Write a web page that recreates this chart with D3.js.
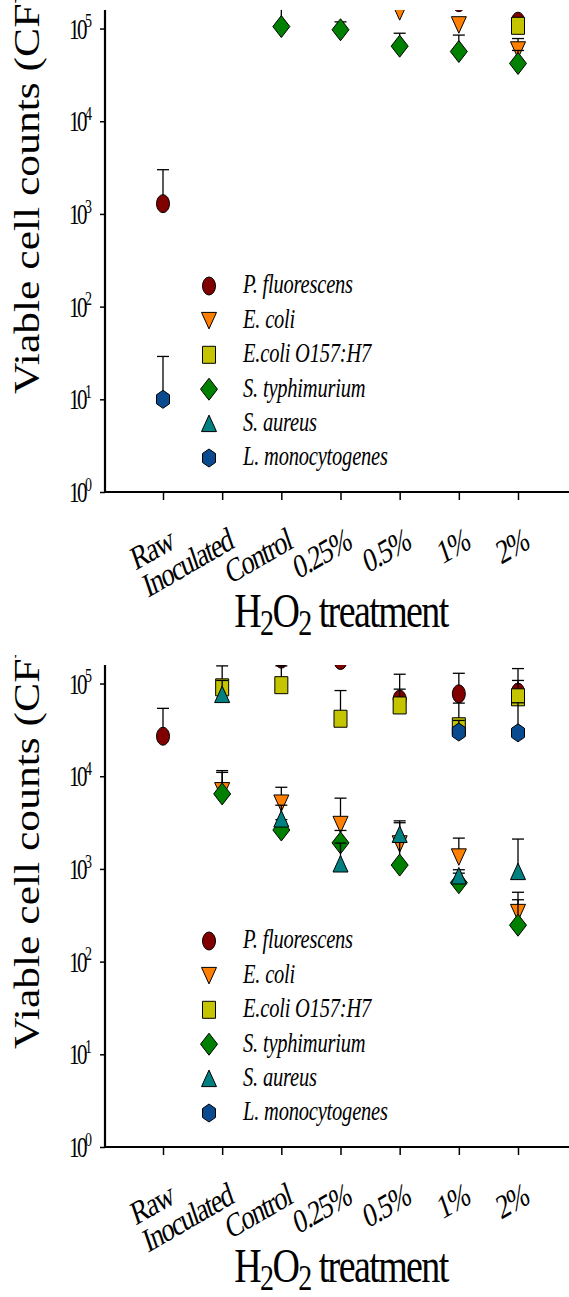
<!DOCTYPE html>
<html>
<head>
<meta charset="utf-8">
<script src="https://cdn.jsdelivr.net/npm/d3@7"></script>
<style>
  html, body { margin: 0; padding: 0; background: #fff; }
  svg { display: block; }
</style>
</head>
<body>
<svg id="chart" width="569" height="1297"></svg>
<script>
// ---- data ---------------------------------------------------------------
const categories = ["Raw", "Inoculated", "Control", "0.25%", "0.5%", "1%", "2%"];
const speciesNames = ["P. fluorescens", "E. coli", "E.coli O157:H7", "S. typhimurium", "S. aureus", "L. monocytogenes"];
const yTickExponents = [0, 1, 2, 3, 4, 5];

// Panel 1: mean counts and upper error limits (null = not shown)
const p1_fluorescens      = [1290, null, null, null, null, 190000, 120000];
const p1_fluorescensErr   = [3000, null, null, null, null, null, null];
const p1_ecoli            = [null, null, null, null, 152000, 110000, 59000];
const p1_ecoliErr         = [null, null, null, null, null, null, 78000];
const p1_o157             = [null, null, null, null, null, null, 107000];
const p1_o157Err          = [null, null, null, null, null, null, null];
const p1_typhimurium      = [null, null, 105000, 97000, 64500, 56500, 42000];
const p1_typhimuriumErr   = [null, null, 175000, 118000, 89000, 85000, 58000];
const p1_aureus           = [null, null, null, null, null, null, null];
const p1_aureusErr        = [null, null, null, null, null, null, null];
const p1_listeria         = [10, null, null, null, null, null, null];
const p1_listeriaErr      = [29, null, null, null, null, null, null];

// Panel 2
const p2_fluorescens      = [27000, null, 183000, 177000, 68000, 77500, 81000];
const p2_fluorescensErr   = [54000, null, null, null, 126000, 129000, 145000];
const p2_ecoli            = [null, 7000, 5150, 3030, 1870, 1350, 340];
const p2_ecoliErr         = [null, 11000, 7600, 5800, 3150, 2150, 560];
const p2_o157             = [null, 91000, 96000, 41700, 58000, 34600, 71000];
const p2_o157Err          = [null, 155000, 155000, 84000, 87000, 61500, 108000];
const p2_typhimurium      = [null, 6450, 2630, 1910, 1100, 710, 247];
const p2_typhimuriumErr   = [null, 11500, 3400, 2600, 2100, 900, 465];
const p2_aureus           = [null, 76000, 3450, 1130, 2350, 840, 935];
const p2_aureusErr        = [null, 108000, 4870, 1900, 3300, 980, 2100];
const p2_listeria         = [null, null, null, null, null, 30000, 29400];
const p2_listeriaErr      = [null, null, null, null, null, 40000, 62000];

const panelData = [
  { means: [p1_fluorescens, p1_ecoli, p1_o157, p1_typhimurium, p1_aureus, p1_listeria],
    errs:  [p1_fluorescensErr, p1_ecoliErr, p1_o157Err, p1_typhimuriumErr, p1_aureusErr, p1_listeriaErr] },
  { means: [p2_fluorescens, p2_ecoli, p2_o157, p2_typhimurium, p2_aureus, p2_listeria],
    errs:  [p2_fluorescensErr, p2_ecoliErr, p2_o157Err, p2_typhimuriumErr, p2_aureusErr, p2_listeriaErr] }
];

// ---- styling ------------------------------------------------------------
const fills  = ["#800000", "#ff8000", "#c4c400", "#008000", "#008080", "#0a4a8e"];
const shapes = ["ellipse", "triDown", "square", "diamond", "triUp", "hexagon"];
const FONT = "'Liberation Serif', 'Times New Roman', serif";
const K = 1.3;            // vertical stretch applied to lettering
const W = 569, PANEL_H = 655;
const AXIS_X = 105, PLOT_TOP = 10, PLOT_BOTTOM = 492;

function shapePath(type) {
  switch (type) {
    case "ellipse": return "M-6.5,0A6.5,9 0 1,0 6.5,0A6.5,9 0 1,0 -6.5,0Z";
    case "triDown": return "M-7.5,-8L7.5,-8L0,8.5Z";
    case "square":  return "M-6.5,-8.5H6.5V8.5H-6.5Z";
    case "diamond": return "M0,-11L8.5,0L0,11L-8.5,0Z";
    case "triUp":   return "M0,-8.5L7.5,8L-7.5,8Z";
    case "hexagon": return "M0,-9L6.5,-4.5L6.5,4.5L0,9L-6.5,4.5L-6.5,-4.5Z";
  }
}

const svg = d3.select("#chart");
const defs = svg.append("defs");

const x = d3.scalePoint().domain(categories).range([163, 518]);
const y = d3.scaleLog().domain([1, Math.pow(10, 5.2)]).range([PLOT_BOTTOM, PLOT_TOP]);

function drawPanel(panel, idx) {
  const oy = idx * PANEL_H;
  const outer = svg.append("g").attr("transform", `translate(0,${oy})`);

  defs.append("clipPath").attr("id", "panelClip" + idx)
    .append("rect").attr("x", 0).attr("y", oy).attr("width", W).attr("height", PANEL_H);
  defs.append("clipPath").attr("id", "plotClip" + idx)
    .append("rect").attr("x", AXIS_X).attr("y", oy + PLOT_TOP)
    .attr("width", W - AXIS_X).attr("height", PLOT_BOTTOM - PLOT_TOP);

  const g = outer.append("g");

  // y axis title, stretched along its baseline
  svg.append("g").attr("clip-path", `url(#panelClip${idx})`)
    .append("text")
    .attr("transform", `translate(39,${oy + 394}) rotate(-90) scale(1.21,1)`)
    .attr("font-family", FONT).attr("font-size", 36)
    .text("Viable cell counts (CFU/g)");

  // y axis ticks
  const yAxis = d3.axisLeft(y)
    .tickValues(yTickExponents.map(e => Math.pow(10, e)))
    .tickSize(5).tickSizeOuter(0).tickFormat("");
  const ya = g.append("g").attr("transform", `translate(${AXIS_X},0)`).call(yAxis);
  ya.select(".domain").remove();
  ya.selectAll(".tick line").attr("stroke", "#000").attr("stroke-width", 1.5);

  // y tick labels: 10 with superscript exponent
  yTickExponents.forEach(e => {
    const t = g.append("text")
      .attr("transform", `translate(92,${y(Math.pow(10, e)) + 10}) scale(1,1.4)`)
      .attr("text-anchor", "end")
      .attr("font-family", FONT).attr("font-size", 21)
      .attr("letter-spacing", -2.5);
    t.append("tspan").text("10");
    t.append("tspan").attr("dy", -8).attr("font-size", 14).attr("letter-spacing", 0).text(e);
  });

  // x axis ticks
  const xAxis = d3.axisBottom(x).tickSize(8).tickSizeOuter(0).tickFormat("");
  const xa = g.append("g").attr("transform", `translate(0,${PLOT_BOTTOM})`).call(xAxis);
  xa.select(".domain").remove();
  xa.selectAll(".tick line").attr("stroke", "#000").attr("stroke-width", 1.5);

  // x tick labels, slanted
  categories.forEach(c => {
    g.append("text")
      .attr("transform", `translate(${x(c) + 12},${PLOT_BOTTOM + 56}) scale(1,${K}) rotate(-24)`)
      .attr("text-anchor", "end")
      .attr("font-family", FONT).attr("font-size", 26)
      .attr("letter-spacing", -1.5)
      .text(c);
  });

  // axis lines
  g.append("line").attr("x1", AXIS_X).attr("x2", AXIS_X)
    .attr("y1", PLOT_TOP).attr("y2", PLOT_BOTTOM + 1)
    .attr("stroke", "#000").attr("stroke-width", 2.2);
  g.append("line").attr("x1", AXIS_X - 1).attr("x2", W)
    .attr("y1", PLOT_BOTTOM).attr("y2", PLOT_BOTTOM)
    .attr("stroke", "#000").attr("stroke-width", 2.2);

  // x axis title with subscripts
  const xt = g.append("text")
    .attr("transform", `translate(341,${PLOT_BOTTOM + 135}) scale(1,${K})`)
    .attr("text-anchor", "middle")
    .attr("font-family", FONT).attr("font-size", 38)
    .attr("letter-spacing", -1.6);
  xt.append("tspan").text("H");
  xt.append("tspan").attr("dy", 6).attr("font-size", 28).text("2");
  xt.append("tspan").attr("dy", -6).text("O");
  xt.append("tspan").attr("dy", 6).attr("font-size", 28).text("2");
  xt.append("tspan").attr("dy", -6).text(" treatment");

  // data: error bars then markers, series by series
  const plot = svg.append("g").attr("clip-path", `url(#plotClip${idx})`)
    .append("g").attr("transform", `translate(0,${oy})`);

  panel.means.forEach((vals, s) => {
    const pts = categories.map((c, i) => ({ c, v: vals[i], e: panel.errs[s][i] }))
      .filter(d => d.v != null);
    const sg = plot.append("g");
    pts.filter(d => d.e != null).forEach(d => {
      sg.append("line").attr("x1", x(d.c)).attr("x2", x(d.c))
        .attr("y1", y(d.v)).attr("y2", y(d.e))
        .attr("stroke", "#000").attr("stroke-width", 1.3);
      sg.append("line").attr("x1", x(d.c) - 6).attr("x2", x(d.c) + 6)
        .attr("y1", y(d.e)).attr("y2", y(d.e))
        .attr("stroke", "#000").attr("stroke-width", 1.3);
    });
    sg.selectAll("path.mark").data(pts).join("path")
      .attr("class", "mark")
      .attr("d", shapePath(shapes[s]))
      .attr("transform", d => `translate(${x(d.c)},${y(d.v)})`)
      .attr("fill", fills[s]).attr("stroke", "#000").attr("stroke-width", 1);
  });

  // legend
  const lg = g.append("g");
  speciesNames.forEach((name, s) => {
    const ry = 286 + s * 34.4;
    lg.append("path").attr("d", shapePath(shapes[s]))
      .attr("transform", `translate(209,${ry})`)
      .attr("fill", fills[s]).attr("stroke", "#000").attr("stroke-width", 1);
    lg.append("text")
      .attr("transform", `translate(243,${ry + 7.3}) scale(1,1.35)`)
      .attr("font-family", FONT).attr("font-style", "italic").attr("font-size", 20.5)
      .attr("letter-spacing", -0.2)
      .text(name);
  });
}

panelData.forEach(drawPanel);
</script>
</body>
</html>
